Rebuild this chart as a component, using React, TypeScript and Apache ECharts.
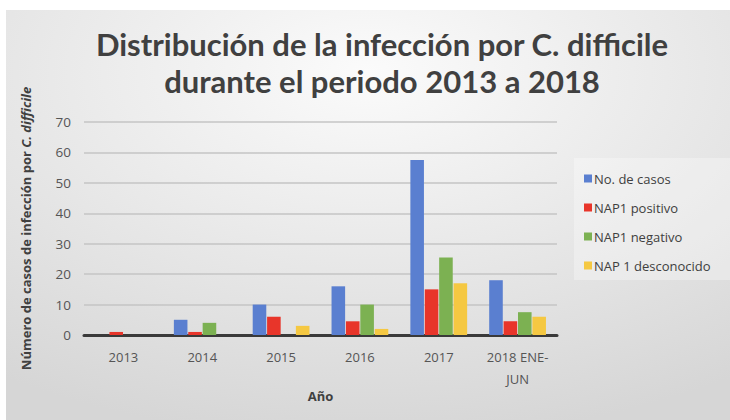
import React, { useEffect, useRef } from "react";
import * as echarts from "echarts";

const categories = ["2013", "2014", "2015", "2016", "2017", "2018 ENE-\nJUN"];
const seriesNames = ["No. de casos", "NAP1 positivo", "NAP1 negativo", "NAP 1 desconocido"];
const casos = [0, 5, 10, 16, 57.5, 18];
const positivo = [1, 1, 6, 4.5, 15, 4.5];
const negativo = [0, 4, 0, 10, 25.5, 7.5];
const desconocido = [0, 0, 3, 2, 17, 6];
const yTicks = { min: 0, max: 70, interval: 10 };
const colors = ["#5a7fd0", "#e8352a", "#7cb152", "#f5c842"];

export default function App() {
  const ref = useRef<HTMLDivElement>(null);
  useEffect(() => {
    if (!ref.current) return;
    const chart = echarts.init(ref.current, undefined, { renderer: "svg" });
    const font = "'Open Sans', 'Noto Sans', sans-serif";
    const data = [casos, positivo, negativo, desconocido];
    chart.setOption({
      animation: false,
      backgroundColor: "#ffffff",
      color: colors,
      graphic: [
        {
          type: "rect",
          z: -10,
          silent: true,
          shape: { x: 6, y: 10, width: 724, height: 410 },
          style: {
            fill: {
              type: "radial",
              x: 0.5,
              y: 0.15,
              r: 0.9,
              colorStops: [
                { offset: 0, color: "#fbfbfb" },
                { offset: 1, color: "#d6d6d6" },
              ],
            },
          },
        },
        {
          type: "rect",
          z: -9,
          silent: true,
          shape: { x: 574, y: 158, width: 156, height: 122 },
          style: { fill: "rgba(255,255,255,0.3)" },
        },
      ],
      title: {
        text: "Distribución de la infección por C. difficile\ndurante el periodo 2013 a 2018",
        left: 377,
        top: 20,
        textAlign: "center",
        textStyle: {
          fontFamily: "Lato, 'Open Sans', sans-serif",
          fontWeight: "bold",
          fontSize: 31,
          lineHeight: 37,
          color: "#404040",
        },
      },
      legend: {
        orient: "vertical",
        left: 579,
        top: 167,
        itemGap: 16,
        itemWidth: 8,
        itemHeight: 8,
        icon: "rect",
        data: seriesNames,
        textStyle: { fontFamily: font, fontSize: 13, color: "#404040", padding: [0, 0, 0, -3] },
      },
      grid: { left: 84, right: 173, top: 122, bottom: 85, containLabel: false },
      xAxis: {
        type: "category",
        data: categories,
        name: "Año",
        nameLocation: "middle",
        nameGap: 54,
        nameMoveOverlap: false,
        nameTextStyle: { fontFamily: font, fontWeight: "bold", fontSize: 13, color: "#404040" },
        axisLine: { lineStyle: { color: "#3a3a3a", width: 3 } },
        axisTick: { show: false },
        axisLabel: { interval: 0, fontFamily: font, fontSize: 13, color: "#555555", margin: 11, lineHeight: 22 },
      },
      yAxis: {
        type: "value",
        min: yTicks.min,
        max: yTicks.max,
        interval: yTicks.interval,
        name: "{b|Número de casos de infección por }{i|C. difficile}",
        nameLocation: "middle",
        nameGap: 52,
        nameTextStyle: {
          rich: {
            b: { fontFamily: font, fontWeight: "bold", fontSize: 13, color: "#404040" },
            i: { fontFamily: font, fontWeight: "bold", fontStyle: "italic", fontSize: 13, color: "#404040" },
          },
        },
        axisLine: { show: false },
        axisTick: { show: false },
        axisLabel: { fontFamily: font, fontSize: 13.5, color: "#555555", margin: 13 },
        splitLine: { lineStyle: { color: "#c4c4c4", width: 1.5 } },
      },
      series: seriesNames.map((name, i) => ({
        name,
        type: "bar",
        data: data[i],
        barGap: "6%",
        barCategoryGap: "28%",
      })),
    });
    return () => chart.dispose();
  }, []);
  return (
    <div
      ref={ref}
      style={{ position: "fixed", left: 0, top: 0, width: 730, height: 420 }}
    />
  );
}
